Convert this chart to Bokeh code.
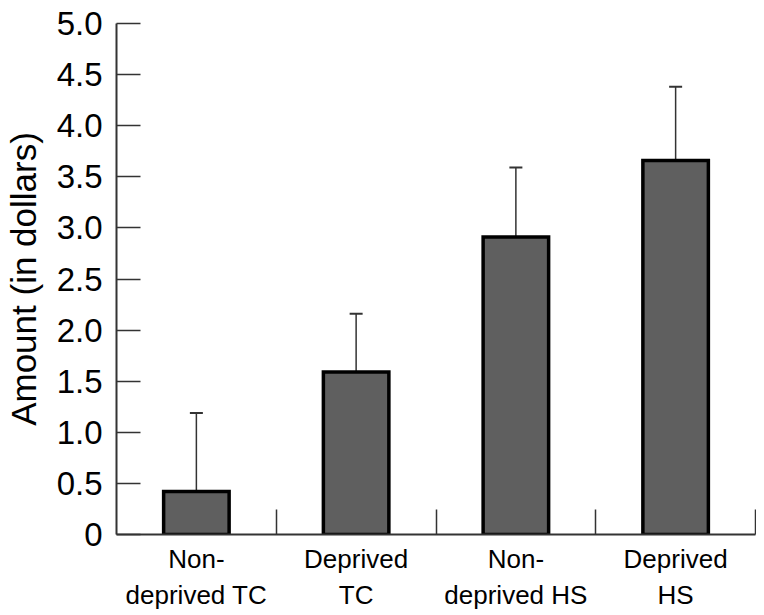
from bokeh.plotting import figure
from bokeh.models import Range1d, FixedTicker, ColumnDataSource, Whisker, TeeHead
from bokeh.embed import file_html
from bokeh.resources import INLINE

categories = ["Non-\ndeprived TC", "Deprived\nTC", "Non-\ndeprived HS", "Deprived\nHS"]
means = [0.42, 1.59, 2.91, 3.66]
upper_err = [1.19, 2.16, 3.59, 4.38]
y_ticks = [0, 0.5, 1.0, 1.5, 2.0, 2.5, 3.0, 3.5, 4.0, 4.5, 5.0]
y_tick_labels = ["0", "0.5", "1.0", "1.5", "2.0", "2.5", "3.0", "3.5", "4.0", "4.5", "5.0"]

xs = [i + 0.5 for i in range(len(categories))]
src = ColumnDataSource(dict(x=xs, top=means, upper=upper_err, lower=means))

p = figure(width=756, height=613, output_backend="svg", toolbar_location=None,
           x_range=Range1d(0, 4), y_range=Range1d(0, 5),
           min_border_left=115, min_border_right=1, min_border_top=23, min_border_bottom=79)
p.outline_line_color = None
p.grid.visible = False
p.background_fill_color = "white"

w = Whisker(source=src, base="x", upper="upper", lower="lower",
            line_color="#333333", line_width=1.5,
            upper_head=TeeHead(size=13, line_color="#333333", line_width=2),
            lower_head=None, level="underlay")
p.add_layout(w)

p.vbar(x="x", top="top", bottom=0, width=0.41, source=src,
       fill_color="#5f5f5f", line_color="black", line_width=3.5, line_join="miter")

font = "Liberation Sans"

ya = p.yaxis[0]
ya.ticker = FixedTicker(ticks=y_ticks, minor_ticks=[])
ya.major_label_overrides = {t: l for t, l in zip(y_ticks, y_tick_labels)}
ya.major_tick_in = 24
ya.major_tick_out = 0
ya.major_tick_line_color = "#333333"
ya.major_tick_line_width = 1.5
ya.axis_line_color = "#333333"
ya.axis_line_width = 2
ya.major_label_text_font = font
ya.major_label_text_font_size = "33px"
ya.major_label_text_color = "black"
ya.major_label_standoff = 14
ya.axis_label = "Amount (in dollars)"
ya.axis_label_text_font = font
ya.axis_label_text_font_size = "35px"
ya.axis_label_text_font_style = "normal"
ya.axis_label_text_color = "black"
ya.axis_label_standoff = 11

xa = p.xaxis[0]
xa.ticker = FixedTicker(ticks=xs, minor_ticks=[1, 2, 3, 4])
xa.major_label_overrides = {x: c for x, c in zip(xs, categories)}
xa.major_tick_in = 0
xa.major_tick_out = 0
xa.minor_tick_in = 25
xa.minor_tick_out = 0
xa.minor_tick_line_color = "#333333"
xa.minor_tick_line_width = 1.5
xa.axis_line_color = "#333333"
xa.axis_line_width = 2
xa.major_label_text_font = font
xa.major_label_text_font_size = "26px"
xa.major_label_text_color = "black"
xa.major_label_standoff = 9

open("out.html", "w").write(file_html(p, INLINE))
